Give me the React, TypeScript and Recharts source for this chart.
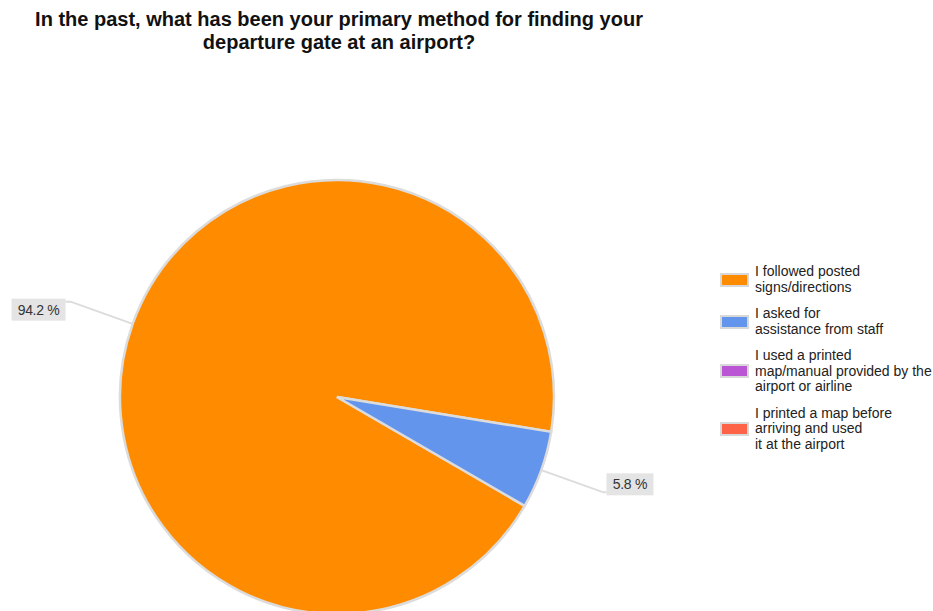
import React from "react";
import { PieChart, Pie, Cell, Legend } from "recharts";

const title = ["In the past, what has been your primary method for finding your", "departure gate at an airport?"];
const categories = [
  "I followed posted\nsigns/directions",
  "I asked for\nassistance from staff",
  "I used a printed\nmap/manual provided by the\nairport or airline",
  "I printed a map before\narriving and used\nit at the airport",
];
const values = [94.2, 5.8, 0, 0];
const colors = ["#FF8C00", "#6495ED", "#BA55D3", "#FF6347"];

const pieData = categories
  .map((name, i) => ({ name, value: values[i], color: colors[i] }))
  .filter((d) => d.value > 0);

const RAD = Math.PI / 180;

const renderLabel = (props: any) => {
  const { cx, cy, midAngle, outerRadius, value } = props;
  const cos = Math.cos(-midAngle * RAD);
  const sin = Math.sin(-midAngle * RAD);
  const sx = cx + outerRadius * cos;
  const sy = cy + outerRadius * sin;
  const ex = cx + (outerRadius + 66) * cos;
  const ey = cy + (outerRadius + 66) * sin;
  const right = cos >= 0;
  const hx = ex + (right ? 3 : -5);
  const text = `${value.toFixed(1)} %`;
  const w = text.length * 7 + 12;
  const h = 22;
  const bx = right ? hx : hx - w;
  const by = sin < 0 ? ey - 3 : ey + 3 - h;
  return (
    <g>
      <polyline
        points={`${sx},${sy} ${ex},${ey} ${hx},${ey}`}
        fill="none"
        stroke="#dcdcdc"
        strokeWidth={2}
      />
      <rect x={bx} y={by} width={w} height={h} fill="#e4e4e4" />
      <text
        x={bx + w / 2}
        y={by + h / 2 + 5}
        textAnchor="middle"
        fontFamily="Arial, 'Liberation Sans', sans-serif"
        fontSize={14}
        letterSpacing={-0.3}
        fill="#333"
      >
        {text}
      </text>
    </g>
  );
};

const renderLegend = () => (
  <div style={{ fontFamily: "Arial, 'Liberation Sans', sans-serif", fontSize: 14, color: "#222" }}>
    {categories.map((c, i) => (
      <div key={i} style={{ display: "flex", alignItems: "center", marginBottom: 11 }}>
        <div
          style={{
            width: 25,
            height: 10,
            background: colors[i],
            border: "2px solid #d8d8d8",
            marginRight: 6,
            flexShrink: 0,
          }}
        />
        <div style={{ whiteSpace: "pre-line", lineHeight: "15.5px" }}>{c}</div>
      </div>
    ))}
  </div>
);

export default function App() {
  return (
    <div style={{ position: "absolute", left: 0, top: 0, width: 933, height: 611, background: "#fff", overflow: "hidden" }}>
      <div
        style={{
          position: "absolute",
          left: 0,
          top: 8,
          width: 678,
          textAlign: "center",
          fontFamily: "Arial, 'Liberation Sans', sans-serif",
          fontWeight: "bold",
          fontSize: 20,
          lineHeight: "23px",
          color: "#111",
        }}
      >
        {title.map((t, i) => (
          <div key={i}>{t}</div>
        ))}
      </div>
      <PieChart
        width={933}
        height={611}
        margin={{ top: 0, right: 0, bottom: 0, left: 0 }}
        style={{ position: "absolute", left: 0, top: 0 }}
      >
        <Pie
          data={pieData}
          dataKey="value"
          nameKey="name"
          cx={337}
          cy={397}
          outerRadius={217}
          startAngle={-9.25}
          endAngle={350.75}
          stroke="#dcdcdc"
          strokeWidth={2.5}
          label={renderLabel}
          labelLine={false}
          isAnimationActive={false}
        >
          {pieData.map((d, i) => (
            <Cell key={i} fill={d.color} />
          ))}
        </Pie>
        <Legend
          content={renderLegend}
          wrapperStyle={{ position: "absolute", left: 720, top: 264, width: 213, bottom: "auto", right: "auto" }}
        />
      </PieChart>
    </div>
  );
}
